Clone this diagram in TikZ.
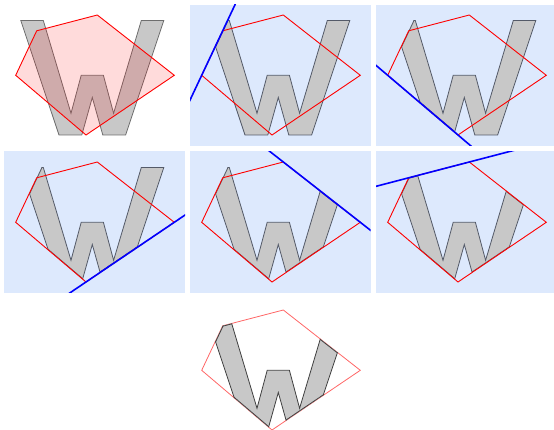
\documentclass[tikz,border=0pt]{standalone}
\usetikzlibrary{calc}
\definecolor{bgc}{RGB}{221,233,253}
\definecolor{wfillc}{RGB}{200,200,200}
\definecolor{wlinec}{RGB}{84,90,104}
\definecolor{wlinea}{RGB}{110,110,110}
\definecolor{redc}{RGB}{255,0,0}
\definecolor{bluec}{RGB}{0,0,255}
\tikzset{
  bgbox/.style={fill=bgc,draw=none},
  wshape/.style={fill=wfillc,draw=wlinec,line width=0.8pt,line join=miter},
  wcut/.style={draw=wlinec,line width=1.6pt},
  redpent/.style={draw=redc,line width=0.9pt,line join=miter},
  blueline/.style={draw=bluec,line width=1.6pt},
}
\newcommand\Wpath{(20.8,20.5) -- (43.3,20.5) -- (71,113.3) -- (81.2,75.3) -- (103.4,75.3) -- (113.6,113.3) -- (141.3,20.5) -- (163.8,20.5) -- (125.6,135) -- (102.8,135) -- (92.3,97.5) -- (81.8,135) -- (59,135) -- cycle}
\newcommand\setpent{%
  \coordinate (P1) at (15.7,75.3);
  \coordinate (P2) at (36.7,30.8);
  \coordinate (P3) at (97.3,15);
  \coordinate (P4) at (174.3,75.3);
  \coordinate (P5) at (86,135);}
\newcommand\pentpath{(P1) -- (P2) -- (P3) -- (P4) -- (P5) -- cycle}
% half-plane clip for clockwise edge #1 -> #2 (interior on the right)
\newcommand\hclip[2]{%
  \coordinate (e1) at ($(#1)!-20!(#2)$);
  \coordinate (e2) at ($(#2)!-20!(#1)$);
  \clip (e1) -- (e2) -- ($(e2)!1!90:(e1)$) -- ($(e1)!1!-90:(e2)$) -- cycle;}
\newcommand\edgeline[3]{\draw[#3] ($(#1)!-20!(#2)$) -- ($(#2)!-20!(#1)$);}
\newcommand\clipA{\hclip{P1}{P2}}
\newcommand\clipB{\hclip{P5}{P1}}
\newcommand\clipC{\hclip{P4}{P5}}
\newcommand\clipD{\hclip{P3}{P4}}
\newcommand\clipE{\hclip{P2}{P3}}
\begin{document}
\begin{tikzpicture}[x=1pt,y=-1pt]
\useasboundingbox (0,0) rectangle (554,430);

% ---- panel 1 ----
\begin{scope}
  \setpent
  \fill[wfillc] \Wpath;
  \draw[draw=wlinea,line width=0.8pt] \Wpath;
  \path[fill=redc,fill opacity=0.14,redpent] \pentpath;
\end{scope}

% ---- panel 2 ----
\begin{scope}[shift={(186,0)}]
  \setpent
  \fill[bgc] (4,5) rectangle (184.5,146);
  \begin{scope}\clipA \path[wshape] \Wpath; \end{scope}
  \begin{scope}\clip \Wpath; \clipA \edgeline{P1}{P2}{wcut} \end{scope}
  \draw[redpent] \pentpath;
  \begin{scope}\clip (4,5) rectangle (184.5,146); \edgeline{P1}{P2}{blueline} \end{scope}
\end{scope}

% ---- panel 3 ----
\begin{scope}[shift={(372,0)}]
  \setpent
  \fill[bgc] (4,5) rectangle (184.5,146);
  \begin{scope}\clipA \clipB \path[wshape] \Wpath; \end{scope}
  \begin{scope}\clip \Wpath; \clipA \clipB \edgeline{P1}{P2}{wcut} \edgeline{P5}{P1}{wcut} \end{scope}
  \draw[redpent] \pentpath;
  \begin{scope}\clip (4,5) rectangle (184.5,146); \edgeline{P5}{P1}{blueline} \end{scope}
\end{scope}

% ---- panel 4 ----
\begin{scope}[shift={(0,147)}]
  \setpent
  \fill[bgc] (4,4.5) rectangle (185,146);
  \begin{scope}\clipA \clipB \clipC \path[wshape] \Wpath; \end{scope}
  \begin{scope}\clip \Wpath; \clipA \clipB \clipC \edgeline{P1}{P2}{wcut} \edgeline{P5}{P1}{wcut} \edgeline{P4}{P5}{wcut} \end{scope}
  \draw[redpent] \pentpath;
  \begin{scope}\clip (4,4.5) rectangle (185,146); \edgeline{P4}{P5}{blueline} \end{scope}
\end{scope}

% ---- panel 5 ----
\begin{scope}[shift={(186,147)}]
  \setpent
  \fill[bgc] (4,4.5) rectangle (184.5,146);
  \begin{scope}\clipA \clipB \clipC \clipD \path[wshape] \Wpath; \end{scope}
  \begin{scope}\clip \Wpath; \clipA \clipB \clipC \clipD \edgeline{P1}{P2}{wcut} \edgeline{P5}{P1}{wcut} \edgeline{P4}{P5}{wcut} \edgeline{P3}{P4}{wcut} \end{scope}
  \draw[redpent] \pentpath;
  \begin{scope}\clip (4,4.5) rectangle (184.5,146); \edgeline{P3}{P4}{blueline} \end{scope}
\end{scope}

% ---- panel 6 ----
\begin{scope}[shift={(372,147)}]
  \setpent
  \fill[bgc] (4,4.5) rectangle (184.5,146);
  \begin{scope}\clipA \clipB \clipC \clipD \clipE \path[wshape] \Wpath; \end{scope}
  \begin{scope}\clip \Wpath; \clipA \clipB \clipC \clipD \clipE \edgeline{P1}{P2}{wcut} \edgeline{P5}{P1}{wcut} \edgeline{P4}{P5}{wcut} \edgeline{P3}{P4}{wcut} \edgeline{P2}{P3}{wcut} \end{scope}
  \draw[redpent] \pentpath;
  \begin{scope}\clip (4,4.5) rectangle (184.5,146); \edgeline{P2}{P3}{blueline} \end{scope}
\end{scope}

% ---- panel 7 ----
\begin{scope}[shift={(186,295)}]
  \setpent
  \draw[draw=redc,draw opacity=0.6,line width=0.8pt] \pentpath;
  \begin{scope}\clipA \clipB \clipC \clipD \clipE \path[wshape,draw=black!75] \Wpath; \end{scope}
  \begin{scope}\clip \Wpath; \clipA \clipB \clipC \clipD \clipE \edgeline{P1}{P2}{wcut,draw=black!75} \edgeline{P5}{P1}{wcut,draw=black!75} \edgeline{P4}{P5}{wcut,draw=black!75} \edgeline{P3}{P4}{wcut,draw=black!75} \edgeline{P2}{P3}{wcut,draw=black!75} \end{scope}
\end{scope}
\end{tikzpicture}
\end{document}
